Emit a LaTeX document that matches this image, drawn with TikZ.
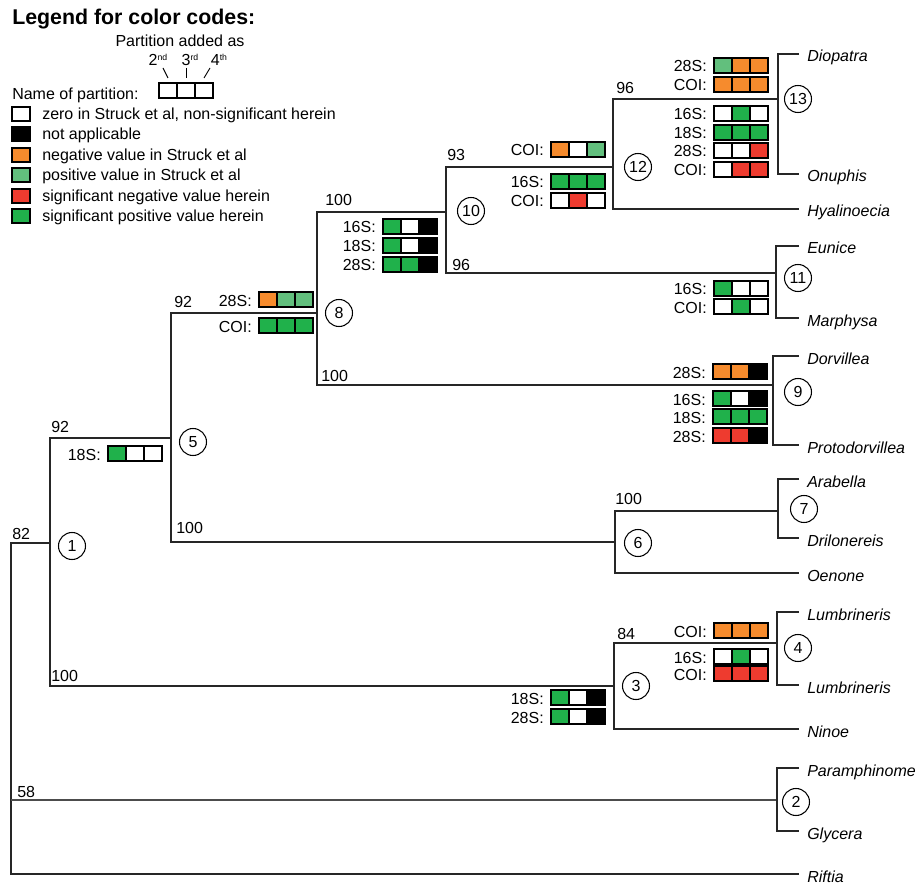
\documentclass[tikz,border=0pt]{standalone}
\usepackage{fontspec}
\setmainfont{Liberation Sans}
\definecolor{cO}{HTML}{F68B2D}
\definecolor{cL}{HTML}{62BF7D}
\definecolor{cR}{HTML}{EE3B2F}
\definecolor{cG}{HTML}{20B14B}
\colorlet{cW}{white}
\colorlet{cK}{black}
\newcommand\prow[7]{%
  \node[plab] (#1) at (#2-7,#3+14) {#4};
  \filldraw[cell,fill=#5] (#2,#3) rectangle ++(18,15);
  \filldraw[cell,fill=#6] (#2+18,#3) rectangle ++(18,15);
  \filldraw[cell,fill=#7] (#2+36,#3) rectangle ++(18,15);
}
\newcommand\legrow[4]{%
  \filldraw[cell,fill=#3] (12,#2-7) rectangle ++(18,14);
  \node[legtext] (#1) at (42,#2+6) {#4};
}
\tikzset{
  tree/.style={line width=1.1pt, draw=black!85},
  treeg/.style={line width=1.6pt, draw=black!70},
  cell/.style={line width=0.8pt, draw=black},
  txt/.style={font=\fontsize{12}{14}\selectfont},
  plab/.style={txt, anchor=base east, inner sep=0pt},
  boot/.style={txt, anchor=base west, inner sep=0pt},
  legtext/.style={txt, anchor=base west, inner sep=0pt},
  taxon/.style={anchor=west, inner xsep=6pt, inner ysep=0pt, text height=12.5pt, text depth=0.5pt, font=\itshape\fontsize{12}{14}\selectfont},
  cnum/.style={txt, circle, draw, line width=0.8pt, minimum size=20.25pt, inner sep=0pt},
}
\begin{document}
\begin{tikzpicture}[x=0.75pt,y=-0.75pt]
\useasboundingbox (0,0) rectangle (917,884);

% ---------- Legend ----------
\node[anchor=base west, inner sep=0pt, font=\bfseries\fontsize{16}{19}\selectfont] (title) at (12,25) {Legend for color codes:};
\node[txt, anchor=base, inner sep=0pt] (padded) at (180,47) {Partition added as};
\node[txt, anchor=base, inner sep=0pt] (second) at (158,66) {2\raisebox{0.7ex}{\fontsize{6.5}{7}\selectfont nd}};
\node[txt, anchor=base, inner sep=0pt] (third) at (190,66) {3\raisebox{0.7ex}{\fontsize{6.5}{7}\selectfont rd}};
\node[txt, anchor=base, inner sep=0pt] (fourth) at (219,66) {4\raisebox{0.7ex}{\fontsize{6.5}{7}\selectfont th}};
\coordinate (s2a) at (163,68); \coordinate (s2b) at (168,78);
\coordinate (s3a) at (186,68); \coordinate (s3b) at (186,78);
\coordinate (s4a) at (210,68); \coordinate (s4b) at (204,78);
\draw[line width=0.7pt] (s2a) -- (s2b);
\draw[line width=0.7pt] (s3a) -- (s3b);
\draw[line width=0.7pt] (s4a) -- (s4b);
\node[legtext] (nameof) at (12,100) {Name of partition:};
\filldraw[cell,fill=white] (159,83) rectangle ++(18,15);
\filldraw[cell,fill=white] (177,83) rectangle ++(18,15);
\filldraw[cell,fill=white] (195,83) rectangle ++(18,15);
\legrow{lg1}{114}{cW}{zero in Struck et al, non-significant herein}
\legrow{lg2}{134}{cK}{not applicable}
\legrow{lg3}{155}{cO}{negative value in Struck et al}
\legrow{lg4}{175}{cL}{positive value in Struck et al}
\legrow{lg5}{196}{cR}{significant negative value herein}
\legrow{lg6}{216}{cG}{significant positive value herein}

% ---------- Tree coordinates ----------
\coordinate (root) at (11,543);
\coordinate (rootb) at (11,874);
\coordinate (c1) at (50,543);
\coordinate (c5) at (171,438);
\coordinate (c8) at (317,313);
\coordinate (c10) at (446,212);
\coordinate (c12) at (613,167);
\coordinate (c13) at (778,99);
\coordinate (c11) at (776,273);
\coordinate (c9) at (773,385);
\coordinate (c6) at (615,542);
\coordinate (c7) at (778,511);
\coordinate (c3) at (614,686);
\coordinate (c4) at (777,643);
\coordinate (c2) at (777,800);

% ---------- Taxa ----------
\node[taxon] (diop) at (799,54) {Diopatra};
\node[taxon] (onup) at (799,174) {Onuphis};
\node[taxon] (hyal) at (799,209) {Hyalinoecia};
\node[taxon] (euni) at (799,246) {Eunice};
\node[taxon] (marp) at (799,318) {Marphysa};
\node[taxon] (dorv) at (799,356) {Dorvillea};
\node[taxon] (prot) at (799,445) {Protodorvillea};
\node[taxon] (arab) at (799,479) {Arabella};
\node[taxon] (dril) at (799,538) {Drilonereis};
\node[taxon] (oeno) at (799,573) {Oenone};
\node[taxon] (lumA) at (799,612) {Lumbrineris};
\node[taxon] (lumB) at (799,685) {Lumbrineris};
\node[taxon] (nino) at (799,729) {Ninoe};
\node[taxon] (para) at (799,768) {Paramphinome};
\node[taxon] (glyc) at (799,831) {Glycera};
\node[taxon] (rift) at (799,874) {Riftia};

% ---------- Branches ----------
\draw[tree] (c1) -- (root) -- (rootb) -- (rift.west);
\draw[treeg] (root |- c2) -- (c2);
\draw[tree] (c5) -| (c1) |- (c3);
\draw[tree] (c8) -| (c5) |- (c6);
\draw[tree] (c10) -| (c8) |- (c9);
\draw[tree] (c12) -| (c10) |- (c11);
\draw[tree] (c13) -| (c12) |- (hyal.west);
\draw[tree] (diop.west) -| (c13) |- (onup.west);
\draw[tree] (euni.west) -| (c11) |- (marp.west);
\draw[tree] (dorv.west) -| (c9) |- (prot.west);
\draw[tree] (c7) -| (c6) |- (oeno.west);
\draw[tree] (arab.west) -| (c7) |- (dril.west);
\draw[tree] (c4) -| (c3) |- (nino.west);
\draw[tree] (lumA.west) -| (c4) |- (lumB.west);
\draw[tree] (para.west) -| (c2) |- (glyc.west);

% ---------- Node circles ----------
\node[cnum] (n1) at (72,546) {1};
\node[cnum] (n2) at (796,802) {2};
\node[cnum] (n3) at (636,686) {3};
\node[cnum] (n4) at (798,648) {4};
\node[cnum] (n5) at (193,442) {5};
\node[cnum] (n6) at (638,543) {6};
\node[cnum] (n7) at (804,509) {7};
\node[cnum] (n8) at (339,313) {8};
\node[cnum] (n9) at (798,392) {9};
\node[cnum] (n10) at (471,211) {10};
\node[cnum] (n11) at (798,278) {11};
\node[cnum] (n12) at (638,167) {12};
\node[cnum] (n13) at (798,99) {13};

% ---------- Bootstrap values ----------
\node[boot] (b82) at (12,539) {82};
\node[boot] (b92a) at (51,432) {92};
\node[boot] (b100a) at (51,681) {100};
\node[boot] (b58) at (17,797) {58};
\node[boot] (b92b) at (174,307) {92};
\node[boot] (b100b) at (176,533) {100};
\node[boot] (b100c) at (325,206) {100};
\node[boot] (b100d) at (321,381) {100};
\node[boot] (b93) at (447,161) {93};
\node[boot] (b96a) at (452,271) {96};
\node[boot] (b96b) at (616,94) {96};
\node[boot] (b100e) at (615,504) {100};
\node[boot] (b84) at (617,639) {84};

% ---------- Partition boxes ----------
\prow{p1}{108}{446}{18S:}{cG}{cW}{cW}
\prow{p2}{259}{292}{28S:}{cO}{cL}{cL}
\prow{p3}{259}{318}{COI:}{cG}{cG}{cG}
\prow{p4}{383}{219}{16S:}{cG}{cW}{cK}
\prow{p5}{383}{238}{18S:}{cG}{cW}{cK}
\prow{p6}{383}{257}{28S:}{cG}{cG}{cK}
\prow{p7}{551}{142}{COI:}{cO}{cW}{cL}
\prow{p8}{551}{174}{16S:}{cG}{cG}{cG}
\prow{p9}{551}{193}{COI:}{cW}{cR}{cW}
\prow{p10}{714}{58}{28S:}{cL}{cO}{cO}
\prow{p11}{714}{77}{COI:}{cO}{cO}{cO}
\prow{p12}{714}{106}{16S:}{cW}{cG}{cW}
\prow{p13}{714}{125}{18S:}{cG}{cG}{cG}
\prow{p14}{714}{143}{28S:}{cW}{cW}{cR}
\prow{p15}{714}{162}{COI:}{cW}{cR}{cR}
\prow{p16}{714}{281}{16S:}{cG}{cW}{cW}
\prow{p17}{714}{299}{COI:}{cW}{cG}{cW}
\prow{p18}{713}{364}{28S:}{cO}{cO}{cK}
\prow{p19}{713}{391}{16S:}{cG}{cW}{cK}
\prow{p20}{713}{409}{18S:}{cG}{cG}{cG}
\prow{p21}{713}{428}{28S:}{cR}{cR}{cK}
\prow{p22}{714}{623}{COI:}{cO}{cO}{cO}
\prow{p23}{714}{649}{16S:}{cW}{cG}{cW}
\prow{p24}{714}{666}{COI:}{cR}{cR}{cR}
\prow{p25}{551}{690}{18S:}{cG}{cW}{cK}
\prow{p26}{551}{709}{28S:}{cG}{cW}{cK}
\end{tikzpicture}
\end{document}
